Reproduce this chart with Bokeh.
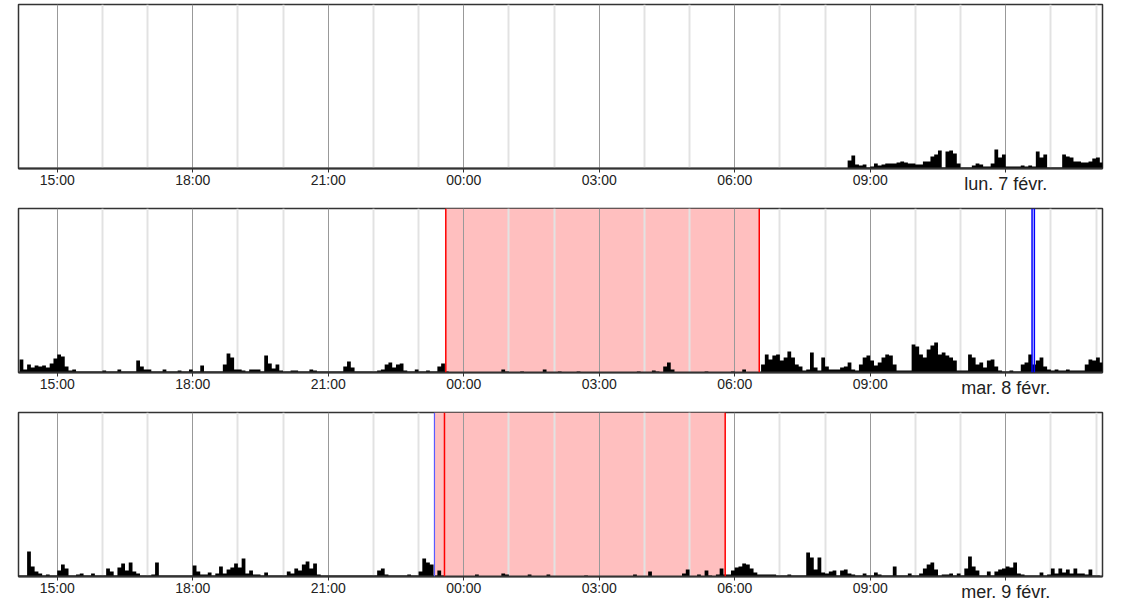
from bokeh.plotting import figure
from bokeh.models import Range1d, FixedTicker, BoxAnnotation, Span, LinearAxis
from bokeh.layouts import column
from bokeh.embed import file_html
from bokeh.resources import INLINE

# ---------------- data ----------------
# x unit: hours since midnight of the day before the labelled day
window_start = 14.1427          # 14:08:30
window_hours = 24
bin_hours = 5 / 60               # 5-minute activity bins

major_hours = [15, 18, 21, 24, 27, 30, 33, 36]
major_labels = ["15:00", "18:00", "21:00", "00:00", "03:00", "06:00", "09:00", ""]
minor_hours = [16, 17, 19, 20, 22, 23, 25, 26, 28, 29, 31, 32, 34, 35, 37, 38]
date_hour = 36                    # 12:00 of the labelled day
date_labels = ["lun. 7 févr.", "mar. 8 févr.", "mer. 9 févr."]

# activity (5-min bins); start hour of first bin for each panel
lun_start = 32.0                  # 08:00
act_lun = [
    0, 0, 0, 0, 0, 0, 8, 13, 4, 3, 4, 1,
    2, 5, 3, 4, 5, 5, 5, 6, 7, 6, 5, 5,
    4, 4, 7, 7, 12, 14, 18, 1, 17, 18, 15, 5,
    1, 1, 1, 3, 5, 4, 2, 2, 5, 19, 11, 14,
    2, 2, 2, 2, 3, 2, 3, 2, 17, 11, 14, 1,
    1, 1, 1, 14, 12, 11, 7, 7, 6, 6, 7, 10,
    11, 6,
]

mar_start = 14.0                  # 14:00
act_mar = [
    0, 0, 13, 3, 8, 5, 7, 6, 7, 5, 9, 14,
    18, 16, 6, 2, 3, 1, 1, 1, 1, 1, 1, 1,
    2, 1, 1, 1, 3, 1, 1, 1, 1, 12, 6, 3,
    3, 1, 1, 1, 3, 1, 1, 1, 2, 1, 1, 3,
    1, 1, 7, 1, 1, 1, 1, 1, 8, 19, 15, 3,
    3, 2, 1, 3, 3, 3, 1, 17, 9, 4, 8, 2,
    1, 1, 2, 2, 1, 1, 1, 3, 2, 1, 1, 1,
    1, 1, 1, 1, 6, 11, 5, 1, 1, 1, 1, 1,
    1, 2, 3, 8, 10, 5, 8, 9, 2, 1, 1, 3,
    1, 1, 2, 1, 1, 6, 9, 1, 0, 0, 0, 0,
    0, 0, 0, 0, 0, 0, 0, 0, 0, 0, 3, 1,
    0, 0, 0, 1, 0, 0, 0, 0, 0, 3, 0, 0,
    0, 1, 0, 0, 0, 0, 1, 0, 0, 0, 0, 0,
    0, 0, 0, 0, 0, 0, 0, 0, 0, 0, 1, 0,
    0, 0, 2, 1, 0, 6, 10, 3, 0, 0, 0, 0,
    0, 0, 0, 0, 1, 0, 0, 0, 0, 0, 0, 1,
    0, 0, 3, 0, 0, 0, 0, 8, 18, 13, 17, 18,
    12, 15, 21, 15, 8, 6, 2, 3, 20, 5, 2, 15,
    6, 3, 3, 3, 5, 6, 10, 3, 2, 8, 15, 17,
    12, 7, 10, 15, 18, 17, 8, 2, 2, 2, 2, 28,
    26, 18, 15, 23, 27, 30, 18, 20, 17, 15, 12, 2,
    2, 2, 18, 15, 8, 10, 5, 12, 13, 6, 2, 1,
    1, 2, 1, 1, 8, 10, 18, 8, 12, 15, 6, 3,
    2, 3, 2, 2, 3, 2, 2, 2, 2, 8, 13, 12,
    15, 10,
]

mer_start = 14.0
act_mer = [
    0, 1, 1, 1, 25, 10, 5, 3, 1, 2, 1, 1,
    6, 12, 8, 1, 1, 2, 3, 1, 1, 3, 1, 1,
    1, 8, 5, 1, 9, 13, 6, 14, 5, 3, 1, 1,
    1, 2, 14, 1, 1, 1, 1, 1, 1, 1, 1, 1,
    11, 5, 2, 2, 4, 1, 3, 10, 3, 7, 9, 13,
    9, 18, 3, 6, 2, 2, 1, 4, 1, 1, 1, 1,
    1, 5, 3, 8, 6, 12, 15, 8, 13, 2, 1, 1,
    1, 1, 1, 1, 1, 1, 1, 1, 1, 1, 1, 1,
    1, 6, 8, 2, 1, 1, 1, 1, 1, 2, 1, 1,
    5, 18, 14, 12, 1, 6, 1, 0, 0, 0, 0, 0,
    0, 0, 0, 2, 0, 0, 0, 0, 0, 0, 3, 2,
    0, 0, 0, 0, 0, 2, 0, 0, 0, 0, 2, 0,
    0, 0, 0, 0, 0, 0, 0, 0, 1, 0, 0, 0,
    0, 0, 0, 0, 0, 0, 0, 0, 0, 2, 0, 0,
    0, 5, 0, 0, 0, 0, 0, 0, 0, 0, 3, 7,
    0, 0, 2, 0, 6, 1, 0, 2, 8, 2, 2, 6,
    9, 10, 13, 12, 8, 4, 2, 2, 2, 2, 2, 1,
    1, 1, 2, 1, 1, 1, 1, 24, 19, 7, 19, 4,
    3, 5, 6, 1, 6, 7, 3, 2, 1, 1, 3, 1,
    1, 4, 2, 1, 1, 1, 10, 1, 1, 1, 3, 1,
    1, 3, 8, 12, 14, 7, 1, 2, 2, 3, 1, 3,
    1, 8, 20, 10, 6, 1, 1, 5, 1, 5, 7, 8,
    10, 9, 14, 3, 2, 1, 1, 1, 1, 4, 1, 2,
    8, 3, 8, 4, 7, 3, 8, 3, 3, 2, 7, 1,
    1, 0,
]

# sleep periods (hours) and markers
mar_sleep = (23.603, 30.543)
mar_marker = (36.583, 36.634)
mer_sleep_fill = (23.352, 29.789)
mer_sleep_lines = (23.574, 29.789)
mer_marker = 23.352

# ---------------- drawing ----------------
FONT = "Liberation Sans"
FRAME_H = 164


def make_panel(start, acts, date_text, height, bottom):
    p = figure(width=1112, height=height,
               x_range=Range1d(window_start, window_start + window_hours),
               y_range=Range1d(0, FRAME_H),
               output_backend="svg", toolbar_location=None,
               min_border_left=18, min_border_right=10,
               min_border_top=4, min_border_bottom=bottom)
    p.yaxis.visible = False
    p.ygrid.visible = False
    p.background_fill_color = "white"
    p.border_fill_color = "white"
    p.outline_line_color = "#333333"
    p.outline_line_width = 1.5

    ticker = FixedTicker(ticks=major_hours, minor_ticks=minor_hours)
    p.xaxis.ticker = ticker
    p.xgrid.ticker = ticker
    p.xaxis.major_label_overrides = dict(zip(major_hours, major_labels))
    p.xgrid.grid_line_color = "#999999"
    p.xgrid.grid_line_width = 1
    p.xgrid.minor_grid_line_color = "#e2e2e2"
    p.xgrid.minor_grid_line_width = 2
    p.xaxis.axis_line_color = "#333333"
    p.xaxis.axis_line_width = 2
    p.xaxis.major_tick_line_color = "#333333"
    p.xaxis.major_tick_out = 4
    p.xaxis.major_tick_in = 0
    p.xaxis.minor_tick_line_color = None
    p.xaxis.major_label_standoff = -1
    p.xaxis.major_label_text_font = FONT
    p.xaxis.major_label_text_font_size = "14px"
    p.xaxis.major_label_text_color = "#222222"

    # date label as a second, line-less axis pulled up next to the times
    date_axis = LinearAxis(ticker=FixedTicker(ticks=[date_hour], minor_ticks=[]),
                           major_label_overrides={date_hour: date_text},
                           axis_line_color=None, major_tick_line_color=None,
                           minor_tick_line_color=None,
                           major_tick_out=0, major_tick_in=0,
                           major_label_standoff=-17,
                           major_label_text_font=FONT,
                           major_label_text_font_size="18px",
                           major_label_text_color="#222222")
    p.add_layout(date_axis, "below")

    xs = [start + i * bin_hours for i in range(len(acts) + 1)]
    ys = list(acts) + [acts[-1]]
    p.varea_step(x=xs, y1=[0] * len(xs), y2=ys, step_mode="after",
                 fill_color="black")
    return p


p1 = make_panel(lun_start, act_lun, date_labels[0], 204, 36)

p2 = make_panel(mar_start, act_mar, date_labels[1], 204, 36)
p2.add_layout(BoxAnnotation(left=mar_sleep[0], right=mar_sleep[1],
                            fill_color="#ffbfbf", fill_alpha=1,
                            line_color=None, level="image"))
for t in mar_sleep:
    p2.add_layout(Span(location=t, dimension="height", line_color="red",
                       line_width=1.5))
for t in mar_marker:
    p2.add_layout(Span(location=t, dimension="height", line_color="blue",
                       line_width=1.5))

p3 = make_panel(mer_start, act_mer, date_labels[2], 200, 32)
p3.add_layout(BoxAnnotation(left=mer_sleep_fill[0], right=mer_sleep_fill[1],
                            fill_color="#ffbfbf", fill_alpha=1,
                            line_color=None, level="image"))
for t in mer_sleep_lines:
    p3.add_layout(Span(location=t, dimension="height", line_color="red",
                       line_width=1.5))
p3.add_layout(Span(location=mer_marker, dimension="height",
                   line_color="#5a5aff", line_width=1.2))

layout = column(p1, p2, p3, spacing=0, width=1112, height=600,
                styles={"overflow": "hidden"})

open("out.html", "w").write(file_html(layout, INLINE))
